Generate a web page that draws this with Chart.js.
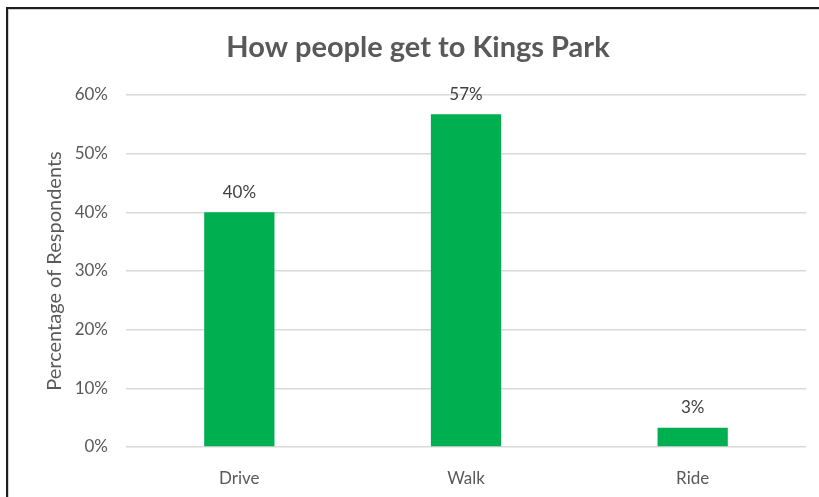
<!DOCTYPE html>
<html>
<head>
<meta charset="utf-8">
<script src="https://cdn.jsdelivr.net/npm/chart.js@4.4.1/dist/chart.umd.min.js"></script>
<style>
    html, body { margin: 0; padding: 0; background: #fff; }
    #wrap { position: relative; width: 819px; height: 497px; }
    #frame {
        position: absolute; left: 6px; top: 7px; right: 0; bottom: 0;
        border-top: 2px solid #1e1e1e; border-left: 2px solid #1e1e1e;
        box-shadow: inset 1px 1px 0 #d0d0d0;
        pointer-events: none;
    }
</style>
</head>
<body>
<div id="wrap">
    <canvas id="kingsParkChart" width="819" height="497"></canvas>
    <div id="frame"></div>
</div>
<script>
const categories = ['Drive', 'Walk', 'Ride'];
const shares = [0.40, 0.567, 0.033];
const yTicks = [0, 0.1, 0.2, 0.3, 0.4, 0.5, 0.6];
const chartTitle = 'How people get to Kings Park';

const FONT = "Lato, 'Open Sans', sans-serif";
const GREY = '#595959';

// title is drawn by hand so it can sit a bit right of the canvas centre, like the original
const titleText = {
    id: 'titleText',
    afterDraw(chart) {
        const ctx = chart.ctx;
        ctx.save();
        ctx.font = 'bold 29px ' + FONT;
        ctx.fillStyle = GREY;
        ctx.textAlign = 'center';
        ctx.textBaseline = 'middle';
        ctx.fillText(chartTitle, 418, 48);
        ctx.restore();
    }
};

// draws the percentage above each bar
const barLabels = {
    id: 'barLabels',
    afterDatasetsDraw(chart) {
        const ctx = chart.ctx;
        const meta = chart.getDatasetMeta(0);
        ctx.save();
        ctx.font = '17px ' + FONT;
        ctx.fillStyle = '#404040';
        ctx.textAlign = 'center';
        ctx.textBaseline = 'middle';
        meta.data.forEach((bar, i) => {
            ctx.fillText(Math.round(shares[i] * 100) + '%', bar.x, bar.y - 20);
        });
        ctx.restore();
    }
};

const ctx = document.getElementById('kingsParkChart').getContext('2d');
new Chart(ctx, {
    type: 'bar',
    data: {
        labels: categories,
        datasets: [{
            data: shares,
            backgroundColor: '#00B050',
            borderWidth: 0,
            categoryPercentage: 1,
            barPercentage: 0.31
        }]
    },
    options: {
        responsive: false,
        animation: false,
        layout: { padding: { left: 0, right: 13, top: 95, bottom: 0 } },
        plugins: {
            legend: { display: false },
            tooltip: { enabled: false },
            title: { display: false }
        },
        scales: {
            y: {
                min: 0,
                max: 0.6,
                afterBuildTicks: scale => { scale.ticks = yTicks.map(v => ({ value: v })); },
                afterFit: scale => { scale.width = 126; },
                ticks: {
                    color: GREY,
                    font: { family: FONT, size: 17 },
                    padding: 18,
                    callback: v => Math.round(v * 100) + '%'
                },
                grid: { color: '#d9d9d9', lineWidth: 1.5, drawTicks: false },
                border: { display: false },
                title: {
                    display: true,
                    text: 'Percentage of Respondents',
                    color: GREY,
                    font: { family: FONT, size: 20 },
                    padding: { top: 43, bottom: 0 }
                }
            },
            x: {
                afterFit: scale => { scale.height = 50; },
                ticks: {
                    color: GREY,
                    font: { family: FONT, size: 17 },
                    padding: 13
                },
                grid: { display: false },
                border: { display: false }
            }
        }
    },
    plugins: [barLabels, titleText]
});
</script>
</body>
</html>
